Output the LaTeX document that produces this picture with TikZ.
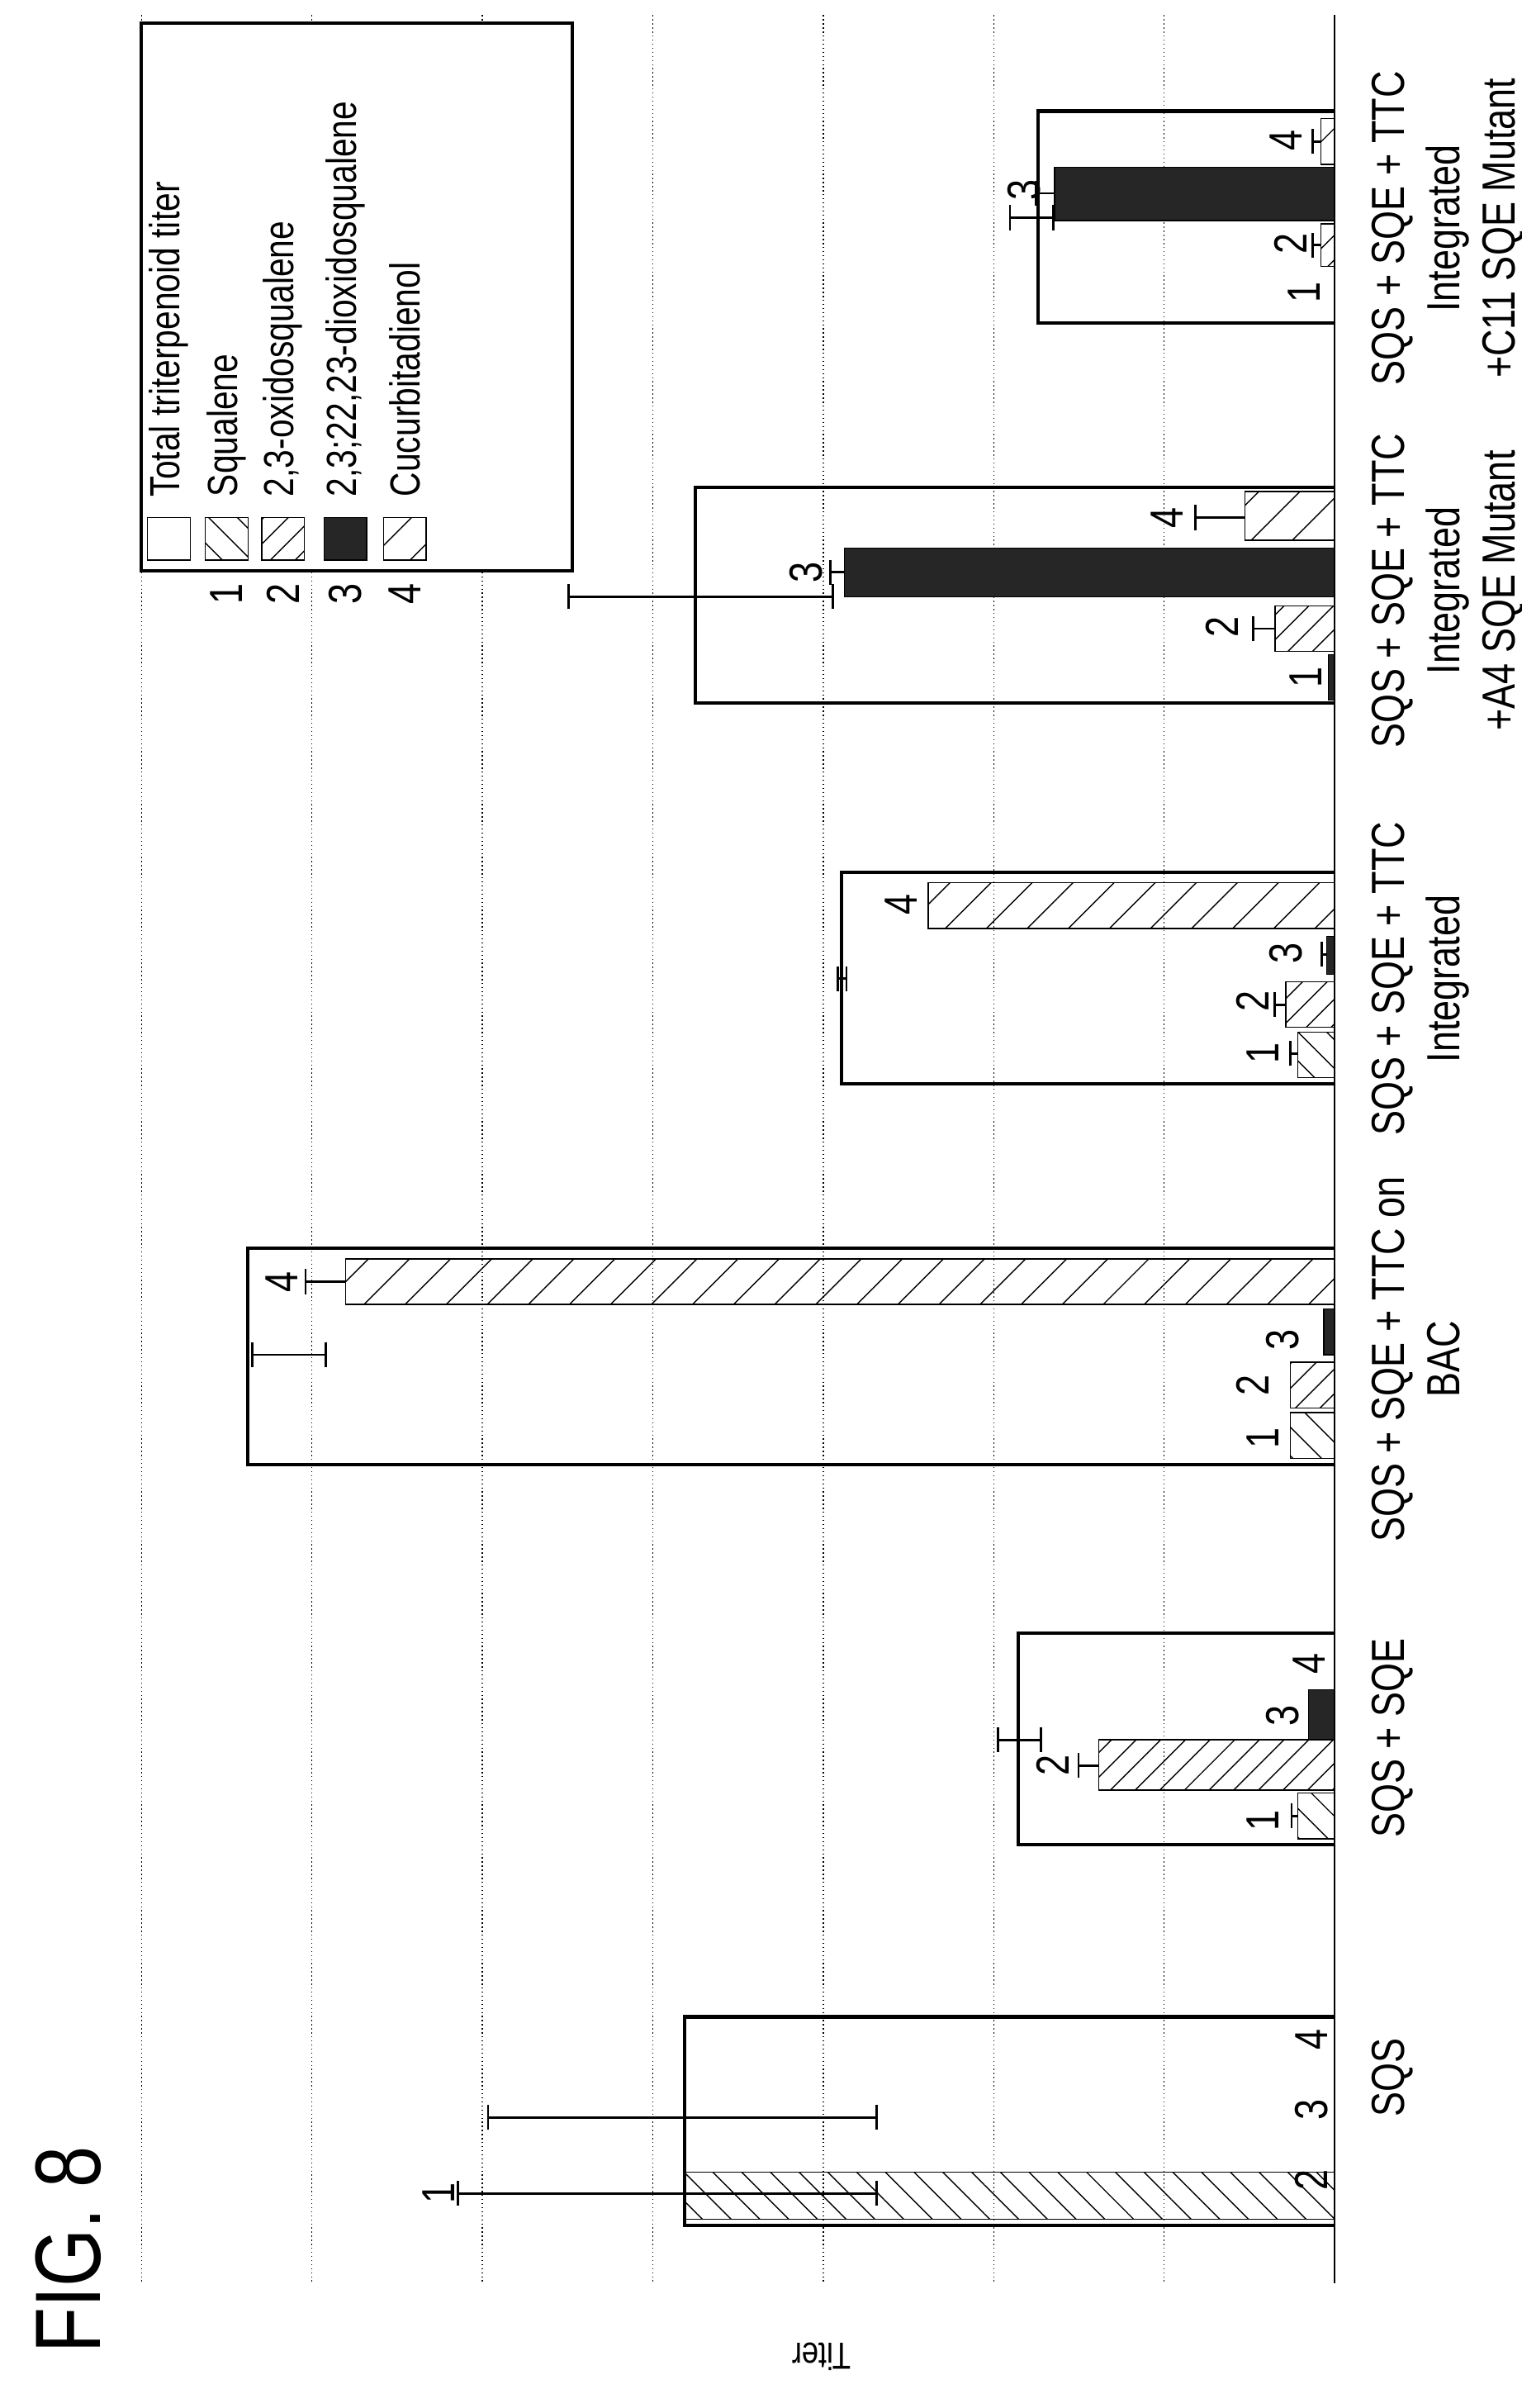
\documentclass[tikz,border=0pt]{standalone}
\usepackage{fontspec}
\setmainfont[FakeStretch=0.8]{Liberation Sans}
\usetikzlibrary{patterns,patterns.meta,arrows.meta}
\begin{document}
\begin{tikzpicture}[x=0.01842cm, y=-0.01842cm,
        grid/.style={densely dotted, thin},
        totalbox/.style={draw, very thick},
        sqbar/.style={draw, pattern={Lines[angle=-45,distance=7pt]}},
        oxbar/.style={draw, pattern={Lines[angle=45,distance=6pt]}},
        dioxbar/.style={draw, fill=black!85},
        cucbar/.style={draw, pattern={Lines[angle=45,distance=10pt]}},
        errcap/.style={thick, -{Bar[width=3mm]}},
        errfull/.style={thick, {Bar[width=3mm]}-{Bar[width=3mm]}},
        num/.style={rotate=90, font=\fontsize{16}{16}\selectfont},
        cat/.style={rotate=90, anchor=north, align=center, font=\fontsize{16}{19}\selectfont},
        legtext/.style={rotate=90, anchor=west, font=\fontsize{14.5}{15}\selectfont},
    ]
    \useasboundingbox (0,0) rectangle (1000,1582);

    % grid and axis
    \foreach \gx in {93,205,317,429,541,653,765}
        \draw[grid] (\gx,10) -- (\gx,1500);
    \draw[thick] (877,10) -- (877,1500);
    \node[rotate=90, font=\fontsize{32}{32}\selectfont] (fig) at (45,1478) {FIG. 8};
    \node[rotate=180, font=\fontsize{13}{13}\selectfont] (titer) at (540,1548) {Titer};

    % SQS
    \draw[totalbox] (877,1462) -- (450,1462) -- (450,1325) -- (877,1325);
    \draw[sqbar] (877,1458) rectangle (450,1427);
    \draw[errfull] (577,1441) -- (300,1441);
    \draw[errfull] (577,1391) -- (320,1391);
    \node[num] (sqs1) at (288,1441) {1};
    \node[num] (sqs2) at (862,1432) {2};
    \node[num] (sqs3) at (862,1386) {3};
    \node[num] (sqs4) at (862,1340) {4};
    \node[cat] (cat1) at (895,1365) {SQS};

    % SQS + SQE
    \draw[totalbox] (877,1212) -- (669,1212) -- (669,1073) -- (877,1073);
    \draw[sqbar] (877,1208) rectangle (853,1178);
    \draw[errcap] (853,1193) -- (848,1193);
    \draw[oxbar] (877,1176) rectangle (722,1143);
    \draw[errcap] (722,1160) -- (708,1160);
    \draw[dioxbar] (877,1143) rectangle (860,1110);
    \draw[errfull] (685,1143) -- (655,1143);
    \node[num] (sqe1) at (830,1196) {1};
    \node[num] (sqe2) at (692,1160) {2};
    \node[num] (sqe3) at (843,1127) {3};
    \node[num] (sqe4) at (860,1093) {4};
    \node[cat] (cat2) at (895,1142) {SQS + SQE};

    % SQS + SQE + TTC on BAC
    \draw[totalbox] (877,962) -- (163,962) -- (163,820) -- (877,820);
    \draw[sqbar] (877,958) rectangle (848,928);
    \draw[oxbar] (877,925) rectangle (848,895);
    \draw[dioxbar] (877,890) rectangle (870,860);
    \draw[cucbar] (877,857) rectangle (227,827);
    \draw[errcap] (227,842) -- (200,842);
    \draw[errfull] (215,890) -- (165,890);
    \node[num] (bac1) at (830,945) {1};
    \node[num] (bac2) at (823,910) {2};
    \node[num] (bac3) at (843,880) {3};
    \node[num] (bac4) at (185,842) {4};
    \node[cat] (cat3) at (895,893) {SQS + SQE + TTC on\\BAC};

    % SQS + SQE + TTC Integrated
    \draw[totalbox] (877,712) -- (553,712) -- (553,573) -- (877,573);
    \draw[sqbar] (877,708) rectangle (853,678);
    \draw[errcap] (853,692) -- (847,692);
    \draw[oxbar] (877,675) rectangle (845,645);
    \draw[errcap] (845,660) -- (837,660);
    \draw[dioxbar] (877,640) rectangle (872,615);
    \draw[errcap] (872,627) -- (868,627);
    \draw[cucbar] (877,610) rectangle (610,580);
    \draw[errfull] (557,643) -- (550,643);
    \node[num] (int1) at (830,692) {1};
    \node[num] (int2) at (823,658) {2};
    \node[num] (int3) at (845,626) {3};
    \node[num] (int4) at (592,594) {4};
    \node[cat] (cat4) at (895,643) {SQS + SQE + TTC\\Integrated};

    % A4 SQE Mutant
    \draw[totalbox] (877,462) -- (457,462) -- (457,320) -- (877,320);
    \draw[dioxbar] (877,460) rectangle (873,430);
    \draw[oxbar] (877,428) rectangle (838,398);
    \draw[errcap] (838,413) -- (823,413);
    \draw[dioxbar] (877,392) rectangle (555,360);
    \draw[errcap] (555,376) -- (545,376);
    \draw[errfull] (548,392) -- (373,392);
    \draw[cucbar] (877,355) rectangle (818,323);
    \draw[errcap] (818,340) -- (785,340);
    \node[num] (mua1) at (858,445) {1};
    \node[num] (mua2) at (803,412) {2};
    \node[num] (mua3) at (530,376) {3};
    \node[num] (mua4) at (767,340) {4};
    \node[cat] (cat5) at (895,388) {SQS + SQE + TTC\\Integrated\\+A4 SQE Mutant};

    % C11 SQE Mutant
    \draw[totalbox] (877,212) -- (682,212) -- (682,73) -- (877,73);
    \draw[oxbar] (877,175) rectangle (868,147);
    \draw[errcap] (868,161) -- (862,161);
    \draw[dioxbar] (877,145) rectangle (693,110);
    \draw[errcap] (693,127) -- (680,127);
    \draw[errfull] (693,143) -- (663,143);
    \draw[cucbar] (877,108) rectangle (868,78);
    \draw[errcap] (868,93) -- (862,93);
    \node[num] (muc1) at (857,192) {1};
    \node[num] (muc2) at (848,160) {2};
    \node[num] (muc3) at (673,125) {3};
    \node[num] (muc4) at (845,92) {4};
    \node[cat] (cat6) at (895,150) {SQS + SQE + TTC\\Integrated\\+C11 SQE Mutant};

    % legend
    \draw[fill=white, very thick] (93,15) rectangle (376,375);
    \draw (97,340) rectangle (125,368);
    \draw[sqbar] (135,340) rectangle (163,368);
    \draw[oxbar] (172,340) rectangle (200,368);
    \draw[dioxbar] (213,340) rectangle (241,368);
    \draw[cucbar] (252,340) rectangle (280,368);
    \node[legtext] (lg0) at (111,333) {Total triterpenoid titer};
    \node[legtext] (lg1) at (149,333) {Squalene};
    \node[legtext] (lg2) at (186,333) {2,3-oxidosqualene};
    \node[legtext] (lg3) at (227,333) {2,3;22,23-dioxidosqualene};
    \node[legtext] (lg4) at (266,333) {Cucurbitadienol};
    \node[num] (ln1) at (149,390) {1};
    \node[num] (ln2) at (186,390) {2};
    \node[num] (ln3) at (227,390) {3};
    \node[num] (ln4) at (266,390) {4};
\end{tikzpicture}
\end{document}
